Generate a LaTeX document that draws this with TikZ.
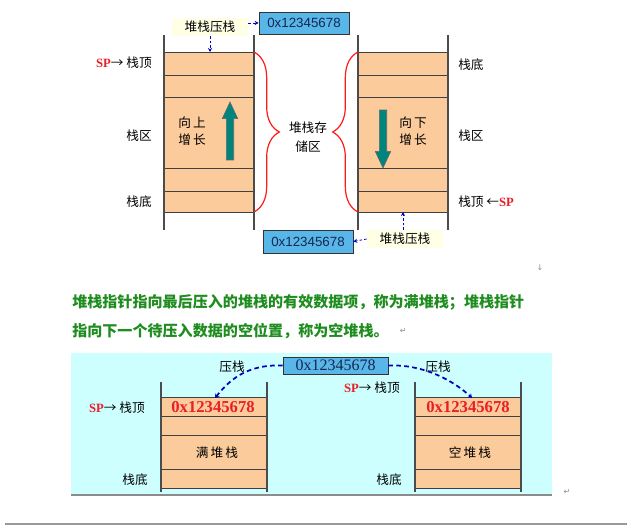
\documentclass[tikz,border=0pt]{standalone}
\usepackage{fontspec}
\newfontfamily\cjk{Noto Sans CJK SC}
\newfontfamily\hexsans{Liberation Sans}
\newfontfamily\hexserif{Liberation Serif}
\newfontfamily\symb{DejaVu Sans}
\usetikzlibrary{arrows.meta,decorations.pathreplacing,shapes.arrows}
\definecolor{cellfill}{RGB}{251,203,155}
\definecolor{boxblue}{RGB}{88,182,232}
\definecolor{panelcyan}{RGB}{206,255,255}
\definecolor{arrowteal}{RGB}{0,133,125}
\definecolor{textgreen}{RGB}{30,140,30}
\definecolor{labelcream}{RGB}{255,255,230}
\definecolor{spred}{RGB}{232,30,40}
\definecolor{hexnavy}{RGB}{20,40,80}
\newcommand{\spname}{\textcolor{spred}{\hexserif\bfseries SP}}

\begin{document}
\begin{tikzpicture}[x=0.75pt,y=-0.75pt,
    wall/.style={draw=black!70,line width=0.8pt},
    cellrow/.style={draw=black!75,line width=0.6pt},
    hexbox/.style={draw=black!80,fill=boxblue,inner sep=0pt,text=hexnavy},
    pushlbl/.style={fill=labelcream,font=\cjk\fontsize{9.5}{11}\selectfont,inner sep=2pt,minimum width=57pt,minimum height=13pt},
    lbl/.style={font=\cjk\fontsize{9.5}{11}\selectfont,inner sep=0pt,align=center},
    pushline/.style={blue!80!black,dash pattern=on 2pt off 1.5pt,line width=0.6pt,-{Stealth[length=3pt,width=3pt]}},
    pushcurve/.style={blue!75!black,dash pattern=on 3.5pt off 2.5pt,line width=1.3pt,-{Stealth[length=3pt,width=4pt]}},
    growarrow/.style={single arrow,draw=black!60,fill=arrowteal,minimum height=43.5pt,inner sep=2.6pt,
        single arrow head extend=3pt,single arrow tip angle=50},
    storebrace/.style={draw=red!90,line width=0.9pt,decorate,decoration={brace,amplitude=#1}},
    retmark/.style={font=\symb\fontsize{6}{6}\selectfont,text=black!45,inner sep=0pt}]
\useasboundingbox (0,0) rectangle (632,531);

\foreach \x in {164,358} {
    \fill[cellfill] (\x,52) rectangle (\x+90,212);
    \foreach \y in {52,75,97,168,191,212}
        \draw[cellrow] (\x,\y) -- (\x+90,\y);
    \draw[wall] (\x,35) -- (\x,230);
    \draw[wall] (\x+90,35) -- (\x+90,230);
}
\coordinate (uptop) at (210,52);
\coordinate (downbot) at (403,212);

\node[hexbox,minimum width=67.5pt,minimum height=16.5pt,font=\hexsans\fontsize{10}{12}\selectfont] (tophex) at (304,23) {0x12345678};
\node[pushlbl] (toppush) at (210,27) {堆栈压栈};
\draw[pushline] (toppush.east |- tophex.west) -- (tophex.west);
\draw[pushline] (toppush.south) -- (uptop);

\node[hexbox,minimum width=67.5pt,minimum height=17pt,font=\hexsans\fontsize{10}{12}\selectfont] (bothex) at (308,241.5) {0x12345678};
\node[pushlbl] (botpush) at (405,239) {堆栈压栈};
\draw[pushline] (botpush.west) -- (bothex.east);
\draw[pushline] (botpush.north -| downbot) -- (downbot);

\node[lbl,anchor=east] (lsp) at (152,63) {\spname{}→ 栈顶};
\node[lbl,anchor=east] (lzone) at (152,136) {栈区};
\node[lbl,anchor=east] (lbase) at (152,202) {栈底};
\node[lbl,anchor=west] (rbase) at (458,65) {栈底};
\node[lbl,anchor=west] (rzone) at (458,136) {栈区};
\node[lbl,anchor=west] (rsp) at (458,202) {栈顶 ←\spname};

\node[lbl] (uptext) at (192,131) {向\,上\\[2pt]增\,长};
\node[lbl] (downtext) at (413,131) {向\,下\\[2pt]增\,长};
\node[growarrow,rotate=90] (upgrow) at (230,135) {};
\node[growarrow,rotate=-90] (downgrow) at (383,135) {};

\draw[storebrace=19pt] (254,52) -- (254,212);
\draw[storebrace=19pt] (358,212) -- (358,52);
\node[lbl] (store) at (308,137) {堆栈存\\[3pt]储区};

\node[retmark] (ret0) at (540,268) {↓};
\node[anchor=west,inner sep=0pt,font=\cjk\bfseries\fontsize{11.3}{13}\selectfont,text=textgreen] (note1) at (72,302)
    {堆栈指针指向最后压入的堆栈的有效数据项，称为满堆栈；堆栈指针};
\node[anchor=west,inner sep=0pt,font=\cjk\bfseries\fontsize{11.3}{13}\selectfont,text=textgreen] (note2) at (72,331)
    {指向下一个待压入数据的空位置，称为空堆栈。};
\node[retmark,anchor=west] (ret1) at ([xshift=8pt]note2.east) {↵};

\fill[panelcyan] (71,353) rectangle (552,495);
\draw[black!45,line width=0.8pt] (71,495) -- (552,495);
\foreach \x in {161,415} {
    \fill[cellfill] (\x,397) rectangle (\x+106,488);
    \foreach \y in {397,416,435,469,488}
        \draw[cellrow] (\x,\y) -- (\x+106,\y);
    \draw[wall] (\x,382) -- (\x,492);
    \draw[wall] (\x+106,382) -- (\x+106,492);
}
\coordinate (fulltop) at (215,398);
\coordinate (emptytop) at (472,398);

\node[hexbox,minimum width=78.75pt,minimum height=13pt,font=\hexserif\fontsize{12}{13}\selectfont] (midhex) at (335.5,365.5) {0x12345678};
\node[lbl] (lpush) at (232,367) {压栈};
\node[lbl] (rpush) at (438,367) {压栈};
\draw[pushcurve] (midhex.west) .. controls (245,364) and (228,382) .. (fulltop);
\draw[pushcurve] (midhex.east) .. controls (425,364) and (455,382) .. (emptytop);

\node[lbl,text=spred,font=\hexserif\bfseries\fontsize{12.5}{13}\selectfont] (fullhex) at (213,407) {0x12345678};
\node[lbl,text=spred,font=\hexserif\bfseries\fontsize{12.5}{13}\selectfont] (emptyhex) at (468,407) {0x12345678};
\node[lbl] (fullname) at (217,453) {满\,堆\,栈};
\node[lbl] (emptyname) at (470,453) {空\,堆\,栈};

\node[lbl,anchor=east] (fullsp) at (145,408) {\spname{}→ 栈顶};
\node[lbl,anchor=east] (fullbase) at (148,480) {栈底};
\node[lbl,anchor=east] (emptysp) at (400,388) {\spname{}→ 栈顶};
\node[lbl,anchor=east] (emptybase) at (402,480) {栈底};
\node[retmark] (ret2) at (567,492) {↵};

\draw[black!40,line width=0.8pt] (5,524) -- (627,524);
\end{tikzpicture}
\end{document}
